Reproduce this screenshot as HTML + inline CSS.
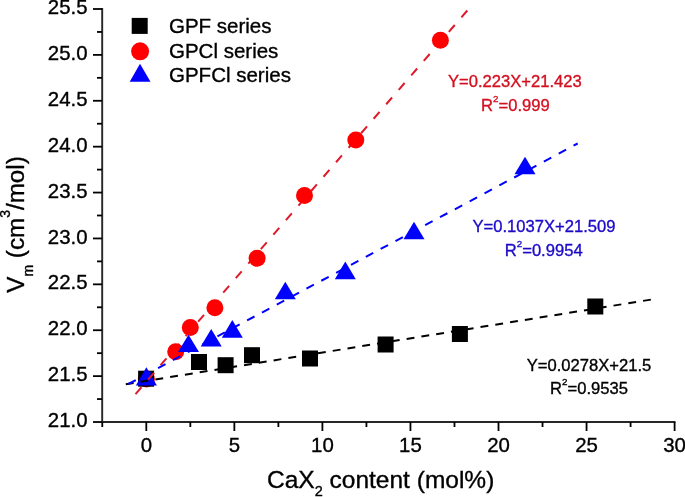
<!DOCTYPE html><html><head><meta charset="utf-8"><style>html,body{margin:0;padding:0;background:#fff;}svg{display:block;will-change:transform;}text{font-family:"Liberation Sans",sans-serif;stroke-width:0.35px;}</style></head><body>
<svg width="685" height="497" viewBox="0 0 685 497">
<rect width="685" height="497" fill="#fff"/>
<path d="M102.2,8 V423 M101.2,422 H675.5" stroke="#262626" stroke-width="1.9" fill="none"/>
<g stroke="#000" stroke-width="1.8" fill="none" stroke-linecap="butt">
<path d="M93,422.01 H102"/>
<path d="M97,399.06 H102"/>
<path d="M93,376.12 H102"/>
<path d="M97,353.18 H102"/>
<path d="M93,330.23 H102"/>
<path d="M97,307.29 H102"/>
<path d="M93,284.34 H102"/>
<path d="M97,261.39 H102"/>
<path d="M93,238.45 H102"/>
<path d="M97,215.50 H102"/>
<path d="M93,192.56 H102"/>
<path d="M97,169.62 H102"/>
<path d="M93,146.67 H102"/>
<path d="M97,123.72 H102"/>
<path d="M93,100.78 H102"/>
<path d="M97,77.84 H102"/>
<path d="M93,54.89 H102"/>
<path d="M97,31.95 H102"/>
<path d="M93,9.00 H102"/>
<path d="M102.28,422 V427"/>
<path d="M146.30,422 V431"/>
<path d="M190.33,422 V427"/>
<path d="M234.35,422 V431"/>
<path d="M278.38,422 V427"/>
<path d="M322.40,422 V431"/>
<path d="M366.43,422 V427"/>
<path d="M410.45,422 V431"/>
<path d="M454.48,422 V427"/>
<path d="M498.50,422 V431"/>
<path d="M542.52,422 V427"/>
<path d="M586.55,422 V431"/>
<path d="M630.58,422 V427"/>
<path d="M674.60,422 V431"/>
</g>
<g font-size="20.4" text-anchor="end" fill="#000" stroke="#000">
<text x="87.5" y="427.11">21.0</text>
<text x="87.5" y="381.22">21.5</text>
<text x="87.5" y="335.33">22.0</text>
<text x="87.5" y="289.44">22.5</text>
<text x="87.5" y="243.55">23.0</text>
<text x="87.5" y="197.66">23.5</text>
<text x="87.5" y="151.77">24.0</text>
<text x="87.5" y="105.88">24.5</text>
<text x="87.5" y="59.99">25.0</text>
<text x="87.5" y="14.10">25.5</text>
</g>
<g font-size="20.4" text-anchor="middle" fill="#000" stroke="#000">
<text x="146.30" y="451.8">0</text>
<text x="234.35" y="451.8">5</text>
<text x="322.40" y="451.8">10</text>
<text x="410.45" y="451.8">15</text>
<text x="498.50" y="451.8">20</text>
<text x="586.55" y="451.8">25</text>
<text x="674.60" y="451.8">30</text>
</g>
<text x="267" y="487.5" font-size="24.5" fill="#000" stroke="#000">CaX<tspan font-size="14.5" dy="8.6">2</tspan><tspan dy="-8.6"> content (mol%)</tspan></text>
<text transform="translate(23.9,292.7) rotate(-90)" font-size="24.2" fill="#000" stroke="#000">V<tspan font-size="14" dy="9.1">m</tspan><tspan dy="-9.1"> (cm</tspan><tspan font-size="14" dy="-13.5">3</tspan><tspan dy="13.5">/mol)</tspan></text>
<path d="M135.5,394.1 L468.0,9.7" stroke="#de1a2a" stroke-width="2" fill="none" stroke-dasharray="9 10.16"/>
<g fill="#f00">
<circle cx="146.3" cy="379.0" r="8.5"/>
<circle cx="175.7" cy="351.8" r="8.5"/>
<circle cx="190.3" cy="327.5" r="8.5"/>
<circle cx="214.9" cy="307.7" r="8.5"/>
<circle cx="257.1" cy="258.2" r="8.5"/>
<circle cx="304.5" cy="195.5" r="8.5"/>
<circle cx="355.8" cy="140.0" r="8.5"/>
<circle cx="440.4" cy="40.2" r="8.5"/>
</g><g fill="#000">
<rect x="138.10" y="370.70" width="16.0" height="16.0"/>
<rect x="191.00" y="354.00" width="16.0" height="16.0"/>
<rect x="217.60" y="357.20" width="16.0" height="16.0"/>
<rect x="244.00" y="347.20" width="16.0" height="16.0"/>
<rect x="302.00" y="350.50" width="16.0" height="16.0"/>
<rect x="377.60" y="336.50" width="16.0" height="16.0"/>
<rect x="451.90" y="326.00" width="16.0" height="16.0"/>
<rect x="587.30" y="298.50" width="16.0" height="16.0"/>
</g><g fill="#00f">
<path d="M146.40,367.30 L156.90,385.50 L135.90,385.50 Z"/>
<path d="M188.50,334.70 L199.00,352.00 L178.00,352.00 Z"/>
<path d="M211.20,328.90 L221.70,346.50 L200.70,346.50 Z"/>
<path d="M232.30,319.90 L242.80,337.70 L221.80,337.70 Z"/>
<path d="M285.30,281.65 L295.80,299.20 L274.80,299.20 Z"/>
<path d="M345.30,261.50 L355.80,279.20 L334.80,279.20 Z"/>
<path d="M414.00,221.80 L424.50,239.30 L403.50,239.30 Z"/>
<path d="M525.00,156.80 L535.50,174.30 L514.50,174.30 Z"/>
</g>
<defs><clipPath id="c0"><rect x="134" y="364" width="26" height="24"/></clipPath></defs>
<g fill="none" stroke-width="2">
<path d="M125.8,384.2 L651,299.6" stroke="#000" stroke-dasharray="7.9 7.07"/>
<path d="M128.4,384.0 L577.7,143.5" stroke="#00f" stroke-dasharray="8.4 8.43"/>
</g>
<g clip-path="url(#c0)"><path d="M135.5,394.1 L468.0,9.7" stroke="#de1a2a" stroke-width="2" fill="none" stroke-dasharray="9 10.16"/></g>
<rect x="131.7" y="17.9" width="16" height="16" fill="#000"/>
<circle cx="140.1" cy="51.3" r="9" fill="#f00"/>
<path d="M140,63.8 L150.5,81.8 L129.7,81.8 Z" fill="#00f"/>
<g font-size="20.5" fill="#000" stroke="#000">
<text x="169" y="32.8">GPF series</text>
<text x="169" y="57.7">GPCl series</text>
<text x="169" y="82.4">GPFCl series</text>
</g>
<g font-size="16.6" text-anchor="middle">
<text x="514.9" y="87.3" fill="#d41020" stroke="#d41020">Y=0.223X+21.423</text>
<text x="515.4" y="111.0" fill="#d41020" stroke="#d41020">R<tspan font-size="9.8" dy="-9">2</tspan><tspan dy="9">=0.999</tspan></text>
<text x="544" y="231.9" fill="#1c0ac8" stroke="#1c0ac8">Y=0.1037X+21.509</text>
<text x="543.7" y="255.8" fill="#1c0ac8" stroke="#1c0ac8">R<tspan font-size="9.8" dy="-9">2</tspan><tspan dy="9">=0.9954</tspan></text>
<text x="589.0" y="371.3" fill="#000" stroke="#000">Y=0.0278X+21.5</text>
<text x="589.0" y="394.3" fill="#000" stroke="#000">R<tspan font-size="9.8" dy="-9">2</tspan><tspan dy="9">=0.9535</tspan></text>
</g>
</svg></body></html>
